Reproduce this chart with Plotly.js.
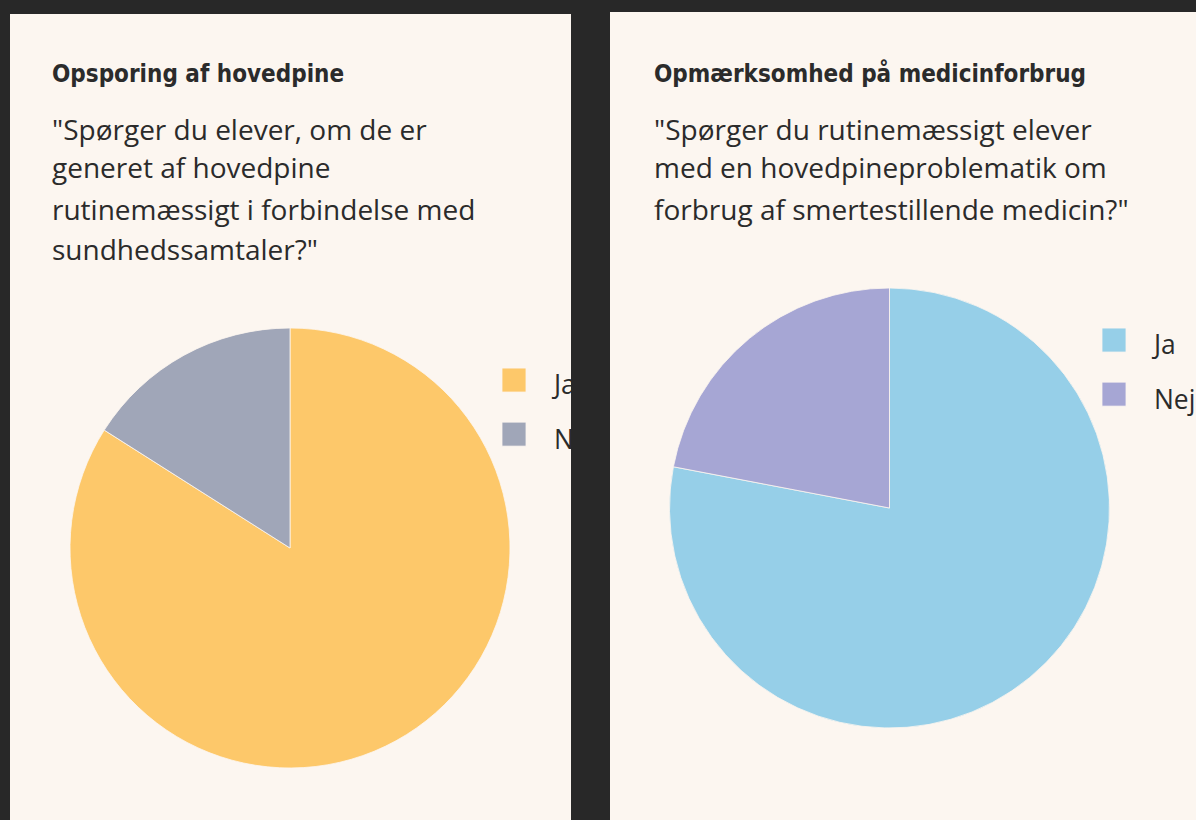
<!DOCTYPE html>
<html>
<head>
<meta charset="utf-8">
<script src="https://cdn.plot.ly/plotly-3.0.1.min.js"></script>
<style>
  html, body { margin:0; padding:0; background:#282828; width:1196px; height:820px; overflow:hidden; }
  .panel { position:absolute; overflow:hidden; background:#fcf6f0; }
  #p1 { left:10px; top:14px; width:561px; height:806px; }
  #p2 { left:610px; top:12px; width:586px; height:808px; }
  .chart { width:300px; height:404px; transform:scale(2); transform-origin:0 0; }
</style>
</head>
<body>
<div id="p1" class="panel"><div id="c1" class="chart"></div></div>
<div id="p2" class="panel"><div id="c2" class="chart"></div></div>
<script>
// Data
const labels = ["Ja", "Nej"];
const values1 = [84, 16];
const values2 = [78, 22];
const colors1 = ["#fdc86a", "#a0a6b8"];
const colors2 = ["#96cfe8", "#a6a6d4"];
const heading1 = "Opsporing af hovedpine";
const heading2 = "Opmærksomhed på medicinforbrug";
const question1 = ["\"Spørger du elever, om de er", "generet af hovedpine", "rutinemæssigt i forbindelse med", "sundhedssamtaler?\""];
const question2 = ["\"Spørger du rutinemæssigt elever", "med en hovedpineproblematik om", "forbrug af smertestillende medicin?\""];

const H = 404;
const cream = "#fcf6f0";
const textFont = "'Open Sans', Roboto, sans-serif";
const headFont = "'DejaVu Sans Condensed', 'DejaVu Sans', sans-serif";

function build(el, values, colors, heading, question, opts) {
  const trace = {
    type: "pie",
    labels: labels.map(l => '<span style="font-size:13.2px">' + l + '</span>'),
    values: values,
    sort: true,
    direction: "clockwise",
    rotation: 0,
    textinfo: "none",
    hoverinfo: "skip",
    marker: { colors: colors, line: { color: cream, width: 0.4 } },
    domain: { x: opts.dx, y: opts.dy }
  };
  const ann = [];
  ann.push({
    text: "<b>" + heading + "</b>", xref: "paper", yref: "paper",
    x: opts.textX / 300, y: 1 - opts.headY / H, xanchor: "left", yanchor: "middle",
    showarrow: false, font: { family: headFont, size: 12, color: "#2b2b2b" }
  });
  question.forEach((line, i) => {
    ann.push({
      text: line, xref: "paper", yref: "paper",
      x: opts.textX / 300, y: 1 - (opts.qY + i * 20) / H, xanchor: "left", yanchor: "middle",
      showarrow: false, font: { family: textFont, size: 14, color: "#2b2b2b" }
    });
  });
  const layout = {
    width: 300, height: H,
    margin: { l: 0, r: 0, t: 0, b: 0 },
    paper_bgcolor: cream, plot_bgcolor: cream,
    showlegend: true,
    legend: {
      x: opts.legX, y: opts.legY, xanchor: "left", yanchor: "top",
      bgcolor: "rgba(0,0,0,0)",
      font: { family: textFont, size: 18.5, color: "#2b2b2b" }
    },
    annotations: ann
  };
  Plotly.newPlot(el, [trace], layout, { staticPlot: true, displayModeBar: false });
}

build("c1", values1, colors1, heading1, question1, {
  dx: [30/300, 250/300], dy: [(H-377)/H, (H-157)/H],
  textX: 19, headY: 30, qY: 57,
  legX: 232/300, legY: 1 - 164.5/H
});
build("c2", values2, colors2, heading2, question2, {
  dx: [29.75/300, 249.75/300], dy: [(H-358)/H, (H-138)/H],
  textX: 19.5, headY: 31, qY: 58,
  legX: 232/300, legY: 1 - 145.5/H
});
</script>
</body>
</html>
